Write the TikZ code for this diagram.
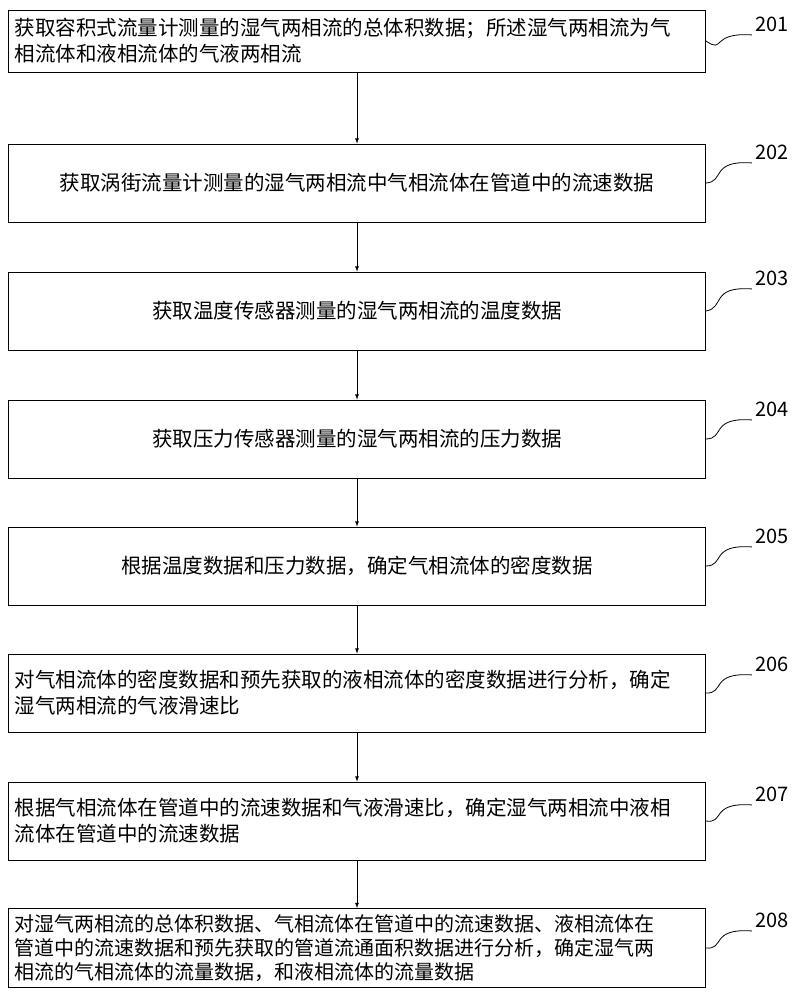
\documentclass[tikz,border=0pt]{standalone}
\usepackage{fontspec}
\setmainfont{Noto Sans CJK SC}
\XeTeXlinebreaklocale "zh"
\XeTeXlinebreakskip=0pt
\usepackage{tikz}
\tikzset{stepbox/.style={draw,thick,minimum width=697pt,minimum height=78pt,text width=685pt,font=\fontsize{20.5}{26}\selectfont,inner sep=6pt},
tag/.style={font=\fontsize{20}{20}\selectfont}}
\begin{document}
\begin{tikzpicture}[x=1pt,y=1pt]
\useasboundingbox (0,0) rectangle (799,-1000);
\node[stepbox,minimum height=62pt,align=left] (s201) at (357,-41) {获取容积式流量计测量的湿气两相流的总体积数据；所述湿气两相流为气\\相流体和液相流体的气液两相流};
\node[stepbox,align=center] (s202) at (357,-183) {获取涡街流量计测量的湿气两相流中气相流体在管道中的流速数据};
\node[stepbox,align=center] (s203) at (357,-311) {获取温度传感器测量的湿气两相流的温度数据};
\node[stepbox,align=center] (s204) at (357,-439) {获取压力传感器测量的湿气两相流的压力数据};
\node[stepbox,align=center] (s205) at (357,-566) {根据温度数据和压力数据，确定气相流体的密度数据};
\node[stepbox,align=left] (s206) at (357,-693) {对气相流体的密度数据和预先获取的液相流体的密度数据进行分析，确定\\湿气两相流的气液滑速比};
\node[stepbox,align=left] (s207) at (357,-821) {根据气相流体在管道中的流速数据和气液滑速比，确定湿气两相流中液相\\流体在管道中的流速数据};
\node[stepbox,align=left,font=\fontsize{20}{24}\selectfont] (s208) at (357,-948) {对湿气两相流的总体积数据、气相流体在管道中的流速数据、液相流体在\\管道中的流速数据和预先获取的管道流通面积数据进行分析，确定湿气两\\相流的气相流体的流量数据，和液相流体的流量数据};
\foreach \a/\b in {201/202,202/203,203/204,204/205,205/206,206/207,207/208}
  \draw[thick,-latex] (s\a) -- (s\b);
% labels
\foreach \n/\y in {201/-24,202/-152,203/-278,204/-409,205/-536,206/-664,207/-794,208/-920} {
  \node[tag] (t\n) at (772,\y) {\n};
  \draw[thick] (s\n.east) .. controls (725,\y-30) and (710,\y-8) .. (t\n.south west);
}
\end{tikzpicture}
\end{document}
